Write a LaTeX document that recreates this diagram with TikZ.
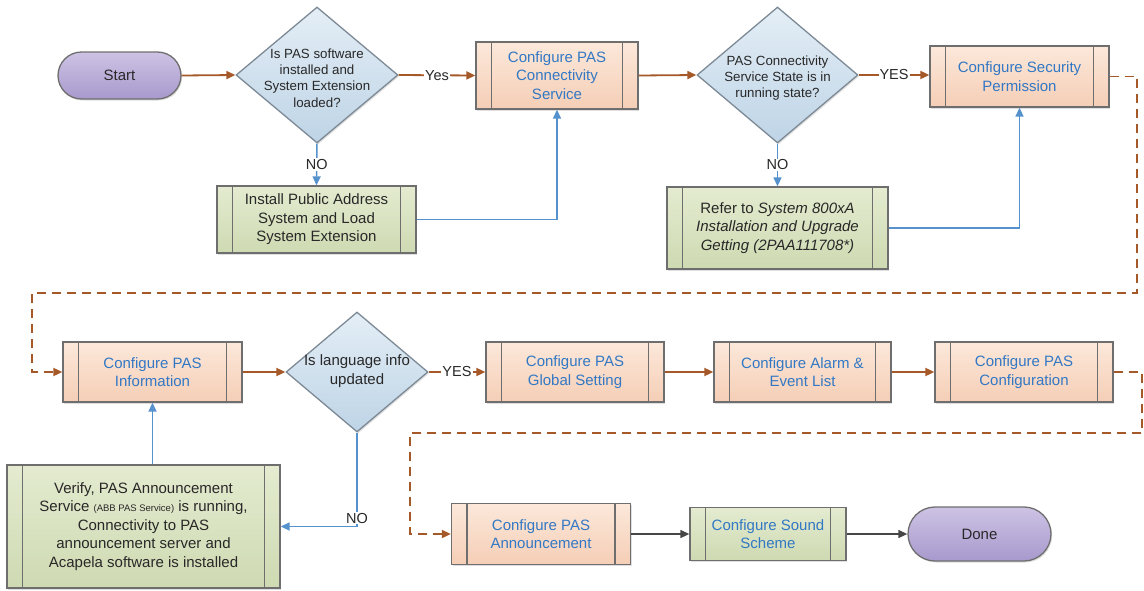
\documentclass[tikz,border=0pt]{standalone}
\usepackage{fontspec}
\setmainfont{Liberation Sans}
\usetikzlibrary{arrows.meta,shapes.geometric,shadows}
\definecolor{brn}{RGB}{165,88,40}
\definecolor{bln}{RGB}{85,145,205}
\definecolor{txtb}{RGB}{50,120,196}
\definecolor{txtd}{RGB}{40,40,40}
\definecolor{bord}{RGB}{110,110,110}
\definecolor{orT}{RGB}{252,232,218}
\definecolor{orB}{RGB}{245,206,182}
\definecolor{grT}{RGB}{228,235,208}
\definecolor{grB}{RGB}{206,218,178}
\definecolor{blT}{RGB}{228,238,246}
\definecolor{blB}{RGB}{190,212,230}
\definecolor{puT}{RGB}{205,195,228}
\definecolor{puB}{RGB}{168,153,205}
\tikzset{
  base/.style={draw=bord, line width=1.3pt, align=center, inner sep=0pt,
    drop shadow={opacity=0.25, shadow xshift=1.2pt, shadow yshift=-1.5pt},
    font=\fontsize{15}{18.5}\selectfont},
  proc/.style={base, rectangle,
    path picture={
      \draw[bord, line width=1.1pt] ([xshift=15.5pt]path picture bounding box.north west) -- ([xshift=15.5pt]path picture bounding box.south west);
      \draw[bord, line width=1.1pt] ([xshift=-15.5pt]path picture bounding box.north east) -- ([xshift=-15.5pt]path picture bounding box.south east);}},
  orbox/.style={proc, top color=orT, bottom color=orB, text=txtb},
  grbox/.style={proc, top color=grT, bottom color=grB, text=txtd},
  decide/.style={base, diamond, top color=blT, bottom color=blB, draw={rgb,255:red,125;green,138;blue,150}},
  term/.style={base, rectangle, rounded corners=#1, top color=puT, bottom color=puB, text=txtd},
  dtext/.style={align=center, text=txtd, inner sep=0pt},
  lbl/.style={fill=white, text=txtd, inner sep=1pt, font=\fontsize{14.5}{16}\selectfont},
  tip/.style={-{Triangle[length=9pt,width=8pt]}},
  bflow/.style={tip, draw=brn, line width=1.8pt},
  bdash/.style={bflow, dash pattern=on 9pt off 6pt},
  blflow/.style={tip, draw=bln, line width=1.5pt},
  kflow/.style={tip, draw={rgb,255:red,70;green,70;blue,70}, line width=1.5pt},
}
\begin{document}
\begin{tikzpicture}[x=1pt,y=-1pt]
\useasboundingbox (0,0) rectangle (1144,590);
% row 1
\node[term=23.5pt, minimum width=123pt, minimum height=47pt] (start) at (119.5,75.5) {Start};
\node[decide, minimum width=162pt, minimum height=136pt] (d1) at (317,75) {};
\node[dtext, font=\fontsize{13.3}{16.3}\selectfont] (d1t) at (317,78) {Is PAS software\\installed and\\System Extension\\loaded?};
\node[grbox, minimum width=199pt, minimum height=67pt] (inst) at (316.5,219.5) {Install Public Address\\System and Load\\System Extension};
\node[orbox, minimum width=162pt, minimum height=67pt] (cps) at (557,75.5) {Configure PAS\\Connectivity\\Service};
\node[decide, minimum width=161pt, minimum height=136pt] (d2) at (777.5,75) {};
\node[dtext, font=\fontsize{13.3}{16.3}\selectfont] (d2t) at (777.5,78) {PAS Connectivity\\Service State is in\\running state?};
\node[orbox, minimum width=179pt, minimum height=61pt] (sec) at (1019.5,76.5) {Configure Security\\Permission};
\node[grbox, minimum width=221pt, minimum height=82pt] (ref) at (777.5,228) {Refer to \textit{System 800xA}\\\textit{Installation and Upgrade}\\\textit{Getting (2PAA111708*)}};
% row 2
\node[orbox, minimum width=179pt, minimum height=60pt] (info) at (152.5,372) {Configure PAS\\Information};
\node[decide, minimum width=142pt, minimum height=120pt] (d3) at (357,372) {};
\node[dtext, font=\fontsize{15}{18.5}\selectfont] (d3t) at (357,371) {Is language info\\updated};
\node[orbox, minimum width=178pt, minimum height=60pt] (glob) at (575,372) {Configure PAS\\Global Setting};
\node[orbox, minimum width=177pt, minimum height=60pt] (alarm) at (802.5,372) {Configure Alarm \&\\Event List};
\node[orbox, minimum width=178pt, minimum height=60pt] (conf) at (1024,372) {Configure PAS\\Configuration};
\node[grbox, minimum width=273pt, minimum height=123pt] (ver) at (143.5,526.5) {Verify, PAS Announcement\\Service {\fontsize{9.5}{10}\selectfont(ABB PAS Service)} is running,\\Connectivity to PAS\\announcement server and\\Acapela software is installed};
% row 3
\node[orbox, minimum width=179pt, minimum height=61pt] (ann) at (541,534) {Configure PAS\\Announcement};
\node[proc, top color=grT, bottom color=grB, text=txtb, minimum width=156pt, minimum height=53pt] (snd) at (768,534) {Configure Sound\\Scheme};
\node[term=27pt, minimum width=143pt, minimum height=54pt] (done) at (979.5,534) {Done};
% helper coordinates
\coordinate (c1) at (1137,293);
\coordinate (c2) at (32,293);
\coordinate (c3) at (1142,433);
\coordinate (c4) at (410,433);
% connectors row 1
\draw[bflow] (start.east) -- (d1.west);
\draw[bflow] (d1.east) -- node[lbl] (yes1) {Yes} (cps.west);
\draw[blflow] (d1.south) -- node[lbl] (no1) {NO} (inst.north);
\draw[blflow] (inst.east) -| (cps.south);
\draw[bflow] (cps.east) -- (d2.west);
\draw[bflow] (d2.east) -- node[lbl] (yes2) {YES} (d2.east -| sec.west);
\draw[blflow] (d2.south) -- node[lbl] (no2) {NO} (ref.north);
\draw[blflow] (ref.east) -| (sec.south);
\draw[bdash] (sec.east) -| (c1) -- (c2) |- (info.west);
% row 2
\draw[bflow] (info.east) -- (d3.west);
\draw[bflow] (d3.east) -- node[lbl] (yes3) {YES} (glob.west);
\draw[bflow] (glob.east) -- (alarm.west);
\draw[bflow] (alarm.east) -- (conf.west);
\draw[bdash] (conf.east) -| (c3) -- (c4) |- (ann.west);
\draw[blflow] (d3.south) |- (ver.east);
\node[lbl] (no3) at (357,518) {NO};
\draw[blflow] (ver.north -| info.south) -- (info.south);
% row 3
\draw[kflow] (ann.east) -- (snd.west);
\draw[kflow] (snd.east) -- (done.west);
\end{tikzpicture}
\end{document}
